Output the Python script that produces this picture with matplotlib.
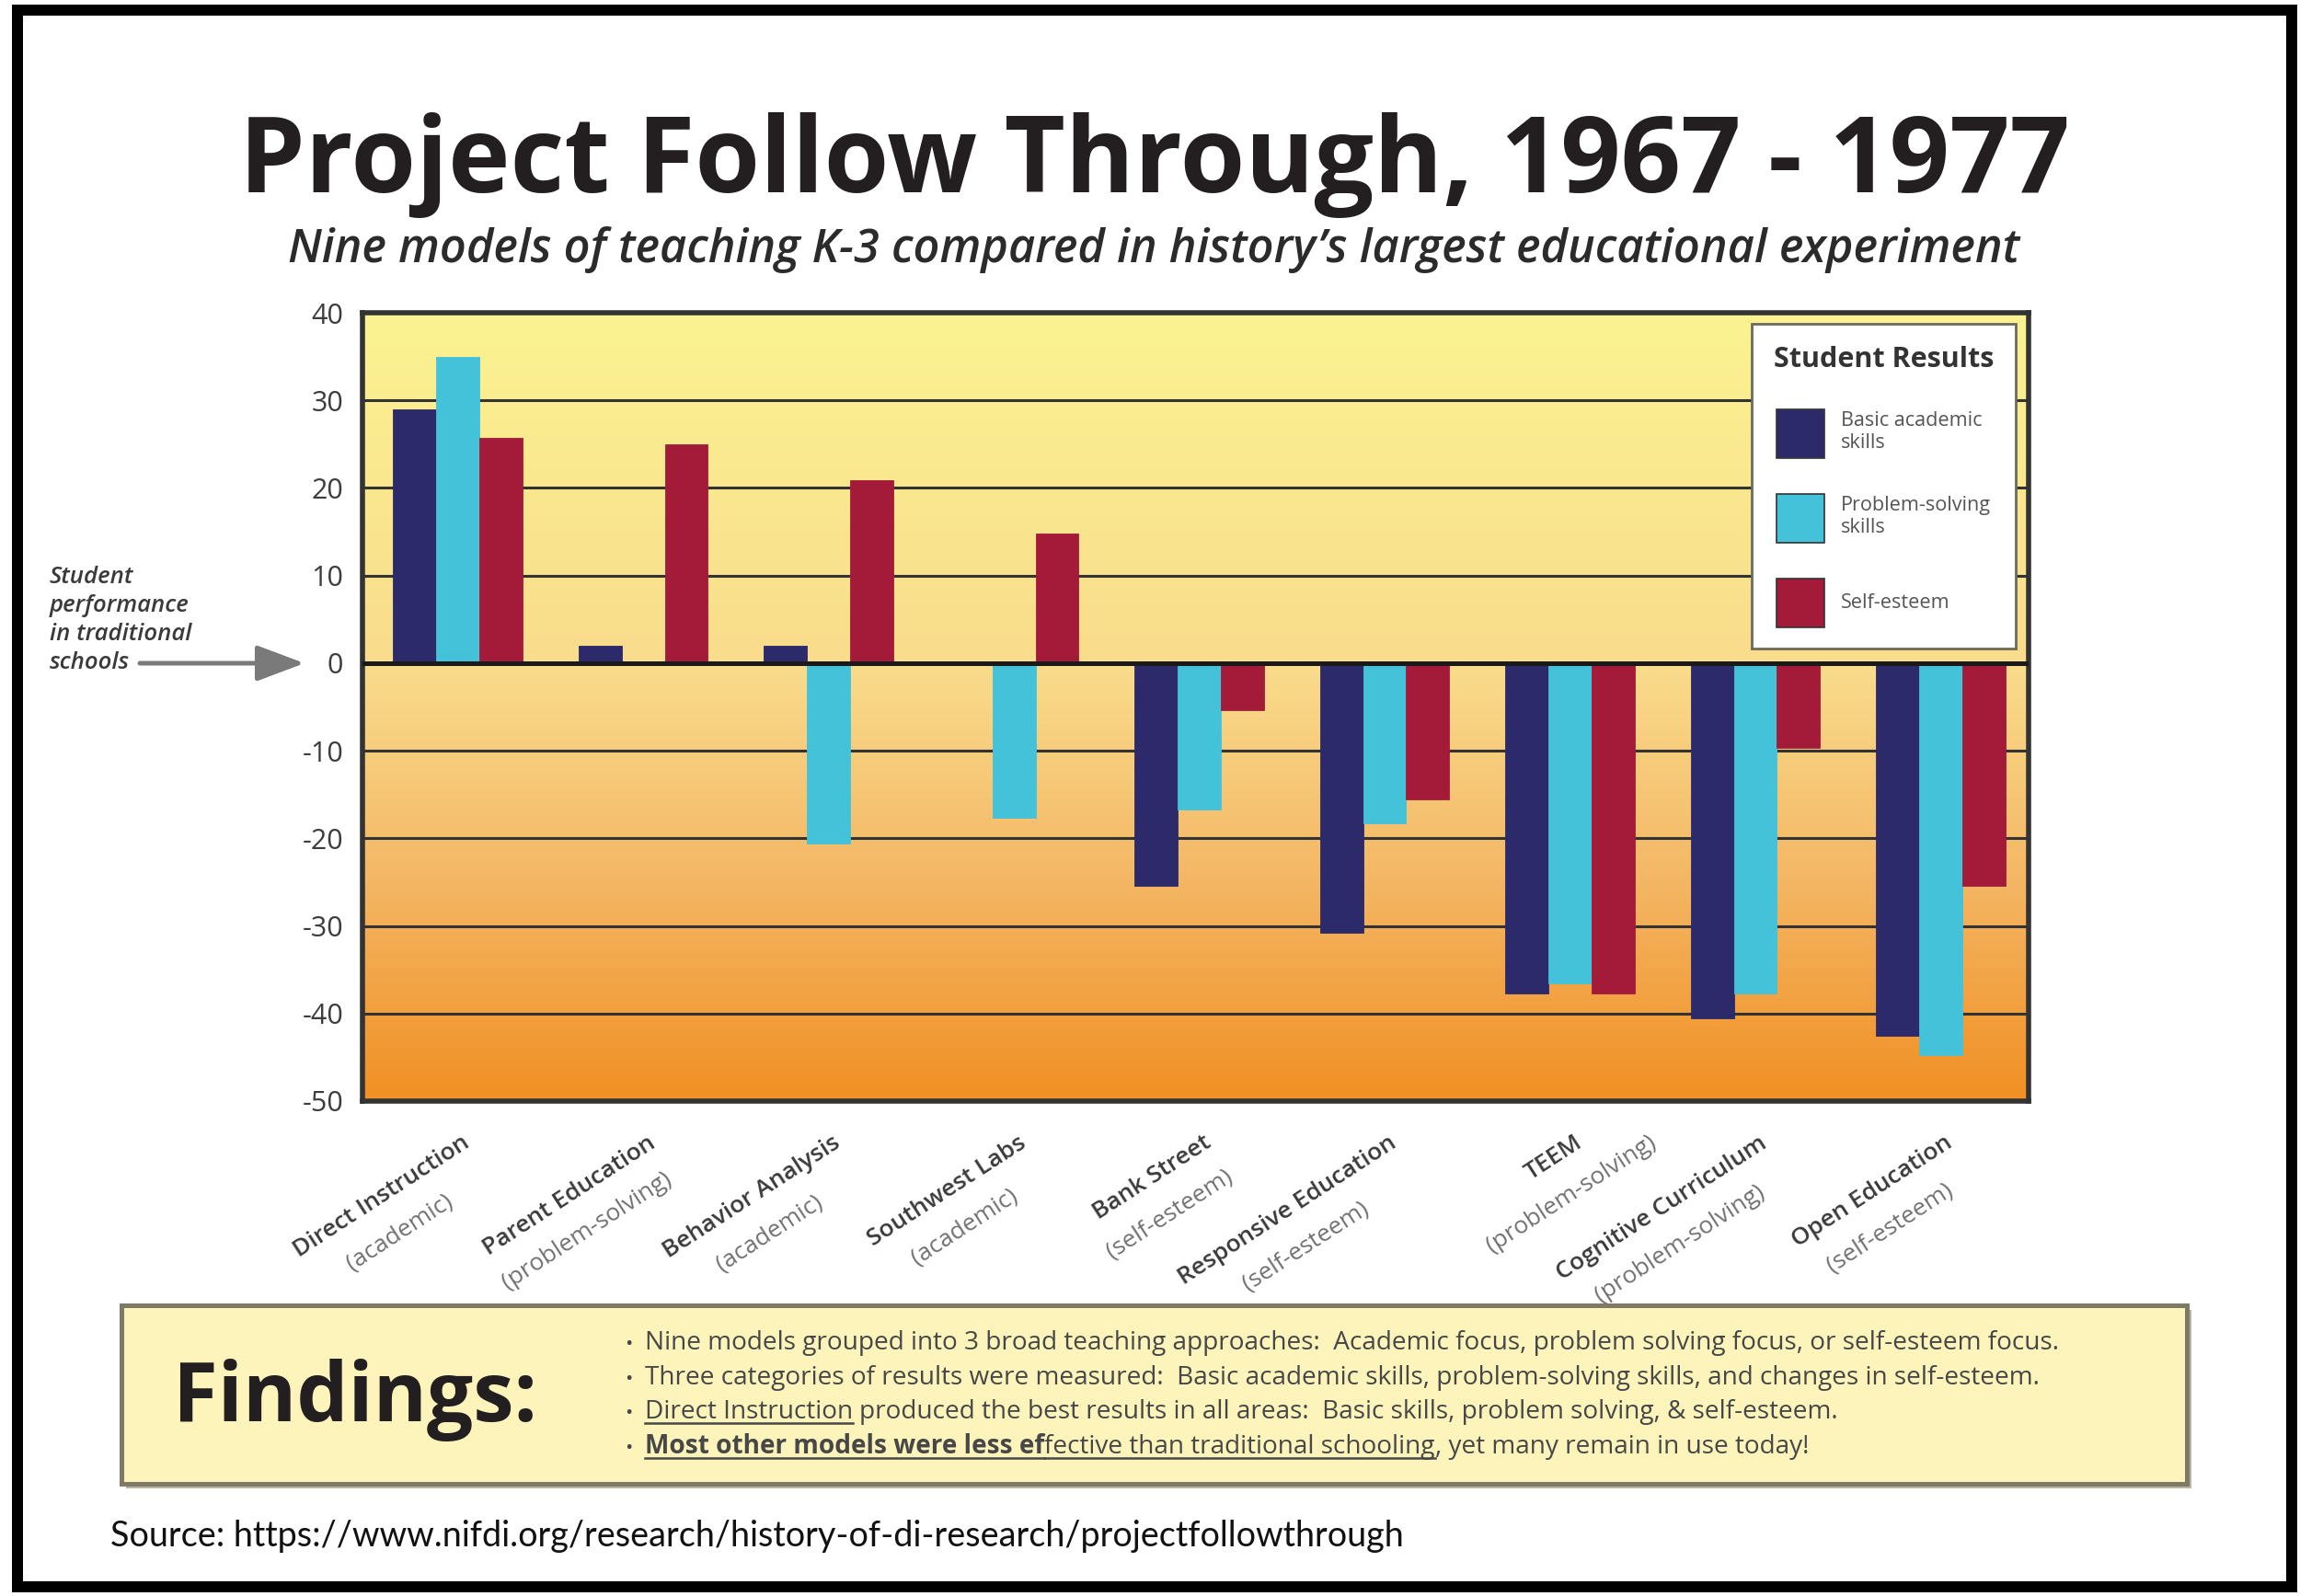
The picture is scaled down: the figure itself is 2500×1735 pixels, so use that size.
import numpy as np
import matplotlib
matplotlib.use("Agg")
import matplotlib.pyplot as plt
from matplotlib import font_manager as fm
from matplotlib.font_manager import FontProperties
from matplotlib.patches import Rectangle
from matplotlib.lines import Line2D
from matplotlib.colors import LinearSegmentedColormap

# ---------------- data ----------------
models = ["Direct Instruction", "Parent Education", "Behavior Analysis",
          "Southwest Labs", "Bank Street", "Responsive Education",
          "TEEM", "Cognitive Curriculum", "Open Education"]
model_focus = ["(academic)", "(problem-solving)", "(academic)", "(academic)",
               "(self-esteem)", "(self-esteem)", "(problem-solving)",
               "(problem-solving)", "(self-esteem)"]
basic_skills = [29, 2, 2, 0, -25.4, -30.8, -37.7, -40.6, -42.5]
problem_solving = [35, 0, -20.6, -17.7, -16.7, -18.3, -36.6, -37.7, -44.7]
self_esteem = [25.7, 25, 20.9, 14.8, -5.4, -15.6, -37.7, -9.7, -25.4]
series_labels = ["Basic academic\nskills", "Problem-solving\nskills", "Self-esteem"]
legend_title = "Student Results"
y_ticks = [40, 30, 20, 10, 0, -10, -20, -30, -40, -50]

title = "Project Follow Through, 1967 - 1977"
subtitle = "Nine models of teaching K-3 compared in history\u2019s largest educational experiment"
side_note = ["Student", "performance", "in traditional", "schools"]
findings_heading = "Findings:"
findings_lines = [
    [("Nine models grouped into 3 broad teaching approaches:  Academic focus, problem solving focus, or self-esteem focus.", False, False)],
    [("Three categories of results were measured:  Basic academic skills, problem-solving skills, and changes in self-esteem.", False, False)],
    [("Direct Instruction ", False, True),
     ("produced the best results in all areas:  Basic skills, problem solving, & self-esteem.", False, False)],
    [("Most other models were less ef", True, True),
     ("fective than traditional schooling", False, True),
     (", yet many remain in use today!", False, False)],
]
source = "Source: https://www.nifdi.org/research/history-of-di-research/projectfollowthrough"

# ---------------- styling ----------------
W, H, DPI = 2500, 1735, 200
bar_colors = ["#2c2a6b", "#43c2d9", "#a31b39"]

avail = {f.name for f in fm.fontManager.ttflist}
def pick(*names):
    for n in names:
        if n in avail:
            return n
    return "DejaVu Sans"

HEAD = pick("Open Sans", "Lato", "Noto Sans")
NARROW = pick("Liberation Sans Narrow", "Open Sans", "Lato")
SRC = pick("Lato", "Open Sans")

def fx(px):
    return px / W

def fy(py):
    return 1 - py / H

fig = plt.figure(figsize=(W / DPI, H / DPI), dpi=DPI)
fig.patch.set_facecolor("white")

ax = fig.add_axes([fx(394), fy(1197), fx(2205) - fx(394), (1197 - 340) / H])

# gradient background (top yellow -> bottom orange)
grad_cmap = LinearSegmentedColormap.from_list(
    "bg", [(0.0, "#fbf391"), (0.45, "#f9dc8c"), (0.72, "#f4b765"), (1.0, "#f19024")])
grad = np.linspace(0, 1, 256).reshape(-1, 1)
ax.imshow(grad, extent=[0, 1, 0, 1], transform=ax.transAxes, aspect="auto",
          origin="upper", cmap=grad_cmap, vmin=0, vmax=1, zorder=0,
          interpolation="bicubic")

x = np.arange(len(models))
bw = 0.233
for k, (vals, col, lab) in enumerate(zip([basic_skills, problem_solving, self_esteem],
                                         bar_colors, series_labels)):
    ax.bar(x + (k - 1) * bw, vals, bw, color=col, label=lab, zorder=2,
           edgecolor=col, linewidth=0.3)

ax.set_xlim(-0.514, 8.474)
ax.set_ylim(-50, 40)
ax.set_yticks(y_ticks)
ax.set_yticklabels([str(v) for v in y_ticks], fontfamily=HEAD, fontsize=11, color="#3d3d3d")
ax.tick_params(axis="y", length=0, pad=7.5)
ax.set_xticks(x)
ax.set_xticklabels([])
ax.tick_params(axis="x", length=0)
ax.yaxis.grid(True, color="#333333", linewidth=1.1, zorder=1)
ax.set_axisbelow(True)
ax.axhline(0, color="#1a1a1a", linewidth=1.8, zorder=3)
for s in ax.spines.values():
    s.set_color("#333333")
    s.set_linewidth(2.0)

leg = ax.legend(title=legend_title, loc="upper left",
                bbox_to_anchor=(fx(1904), fy(352)), bbox_transform=fig.transFigure,
                borderaxespad=0, frameon=True, fancybox=False, framealpha=1,
                edgecolor="#6b6b5a", facecolor="white",
                prop=FontProperties(family=HEAD, size=7.8),
                title_fontproperties=FontProperties(family=HEAD, weight="bold", size=11.0),
                handlelength=2.4, handleheight=3.38, handletextpad=0.85,
                labelspacing=1.8, borderpad=1.1, labelcolor="#555555")
leg.get_title().set_color("#333333")
leg.get_frame().set_linewidth(1.0)
for h in leg.legend_handles:
    h.set_edgecolor("#333333")
    h.set_linewidth(0.6)

# ---------------- texts ----------------
t_title = fig.text(fx(1255), fy(209), title, ha="center", va="baseline",
                   fontfamily=HEAD, fontweight="bold", fontsize=40, color="#231f20")
t_sub = fig.text(fx(1254), fy(285), subtitle, ha="center", va="baseline",
                 fontfamily=HEAD, fontweight=600, fontstyle="italic", fontsize=17,
                 color="#2b2b2b")

note_texts = []
for i, line in enumerate(side_note):
    note_texts.append(fig.text(fx(54), fy(634 + 31 * i), line, ha="left", va="baseline",
                               fontfamily=HEAD, fontweight=600, fontstyle="italic",
                               fontsize=8.5, color="#3a3a3a"))

ax.annotate("", xy=(fx(331), fy(721)), xytext=(fx(152), fy(721)),
            xycoords="figure fraction", textcoords="figure fraction",
            arrowprops=dict(arrowstyle="-|>,head_length=0.4,head_width=0.15",
                            color="#7a7a7a", lw=1.8, mutation_scale=40,
                            shrinkA=0, shrinkB=0), annotation_clip=False)

# findings box
fig.add_artist(Rectangle((fx(137), fy(1618)), fx(2382) - fx(137), (1618 - 1424) / H,
                         transform=fig.transFigure, facecolor="#b8b4a0",
                         edgecolor="none", zorder=1))
fig.add_artist(Rectangle((fx(132), fy(1613)), fx(2377) - fx(132), (1613 - 1419) / H,
                         transform=fig.transFigure, facecolor="#fdf4bb",
                         edgecolor="#7e7a66", linewidth=1.8, zorder=2))
t_find = fig.text(fx(188), fy(1545), findings_heading, ha="left", va="baseline",
                  fontfamily=HEAD, fontweight="bold", fontsize=27, color="#231f20", zorder=3)

t_src = fig.text(fx(120), fy(1681), source, ha="left", va="baseline",
                 fontfamily=SRC, fontsize=11, color="#111111")

# outer frame
fig.add_artist(Rectangle((fx(18.5), fy(1725)), fx(2491) - fx(18.5), (1725 - 11) / H,
                         transform=fig.transFigure, fill=False, edgecolor="black",
                         linewidth=12 * 72 / DPI, zorder=10))

# ---------------- fitting text widths ----------------
fig.canvas.draw()
R = fig.canvas.get_renderer()

def fit(t, target):
    w = t.get_window_extent(R).width
    t.set_fontsize(t.get_fontsize() * target / w)

def text_w(s, prop):
    w, h, d = R.get_text_width_height_descent(s, prop, ismath=False)
    return w

fit(t_title, 1991)
fit(t_sub, 1885)
fit(t_find, 396)
fit(t_src, 1404)
fit(note_texts[1], 152)
for t in note_texts:
    t.set_fontsize(note_texts[1].get_fontsize())

# findings bullet lines
base_prop = FontProperties(family=NARROW, size=10)
fsize = 10 * 1539 / text_w(findings_lines[0][0][0], base_prop)
baselines = [1467, 1505, 1542, 1580]
col_txt = "#474747"
for line, yb in zip(findings_lines, baselines):
    fig.text(fx(679), fy(yb), "\u2022", ha="left", va="baseline", fontfamily=NARROW,
             fontsize=fsize * 0.8, color=col_txt, zorder=3)
    xc = 701
    for txt, bold, ul in line:
        prop = FontProperties(family=NARROW, size=fsize, weight="bold" if bold else "normal")
        fig.text(fx(xc), fy(yb), txt, ha="left", va="baseline", fontproperties=prop,
                 color=col_txt, zorder=3)
        if ul:
            wul = text_w(txt.rstrip(), prop)
            fig.add_artist(Line2D([fx(xc), fx(xc + wul)], [fy(yb + 5), fy(yb + 5)],
                                  transform=fig.transFigure, color=col_txt,
                                  linewidth=0.9, zorder=3))
        xc += text_w(txt + "|", prop) - text_w("|", prop)

# rotated category labels
theta = np.deg2rad(33)
d = np.array([np.cos(theta), np.sin(theta)])
n = np.array([np.sin(theta), -np.cos(theta)])
name_prop = FontProperties(family=HEAD, weight=600, size=8.5)
scale = 223 / text_w(models[0], name_prop)
name_prop = FontProperties(family=HEAD, weight=600, size=8.5 * scale)
sub_prop = FontProperties(family=HEAD, size=8.5 * scale)
ybot = ax.transAxes.transform((0, 0))[1]
inv = fig.transFigure.inverted()
for i, (nm, fc) in enumerate(zip(models, model_focus)):
    xc = ax.transData.transform((i, 0))[0]
    P = np.array([xc + 4, ybot - 33])
    fig.text(*inv.transform(P), nm, ha="right", va="top", rotation=33,
             rotation_mode="anchor", fontproperties=name_prop, color="#3a3a3a")
    wn = text_w(nm, name_prop)
    Q = P - d * (wn / 2) + n * 43 - d * 5
    fig.text(*inv.transform(Q), fc, ha="center", va="top", rotation=33,
             rotation_mode="anchor", fontproperties=sub_prop, color="#707070")

fig.savefig("out.png", dpi=DPI, facecolor="white")
